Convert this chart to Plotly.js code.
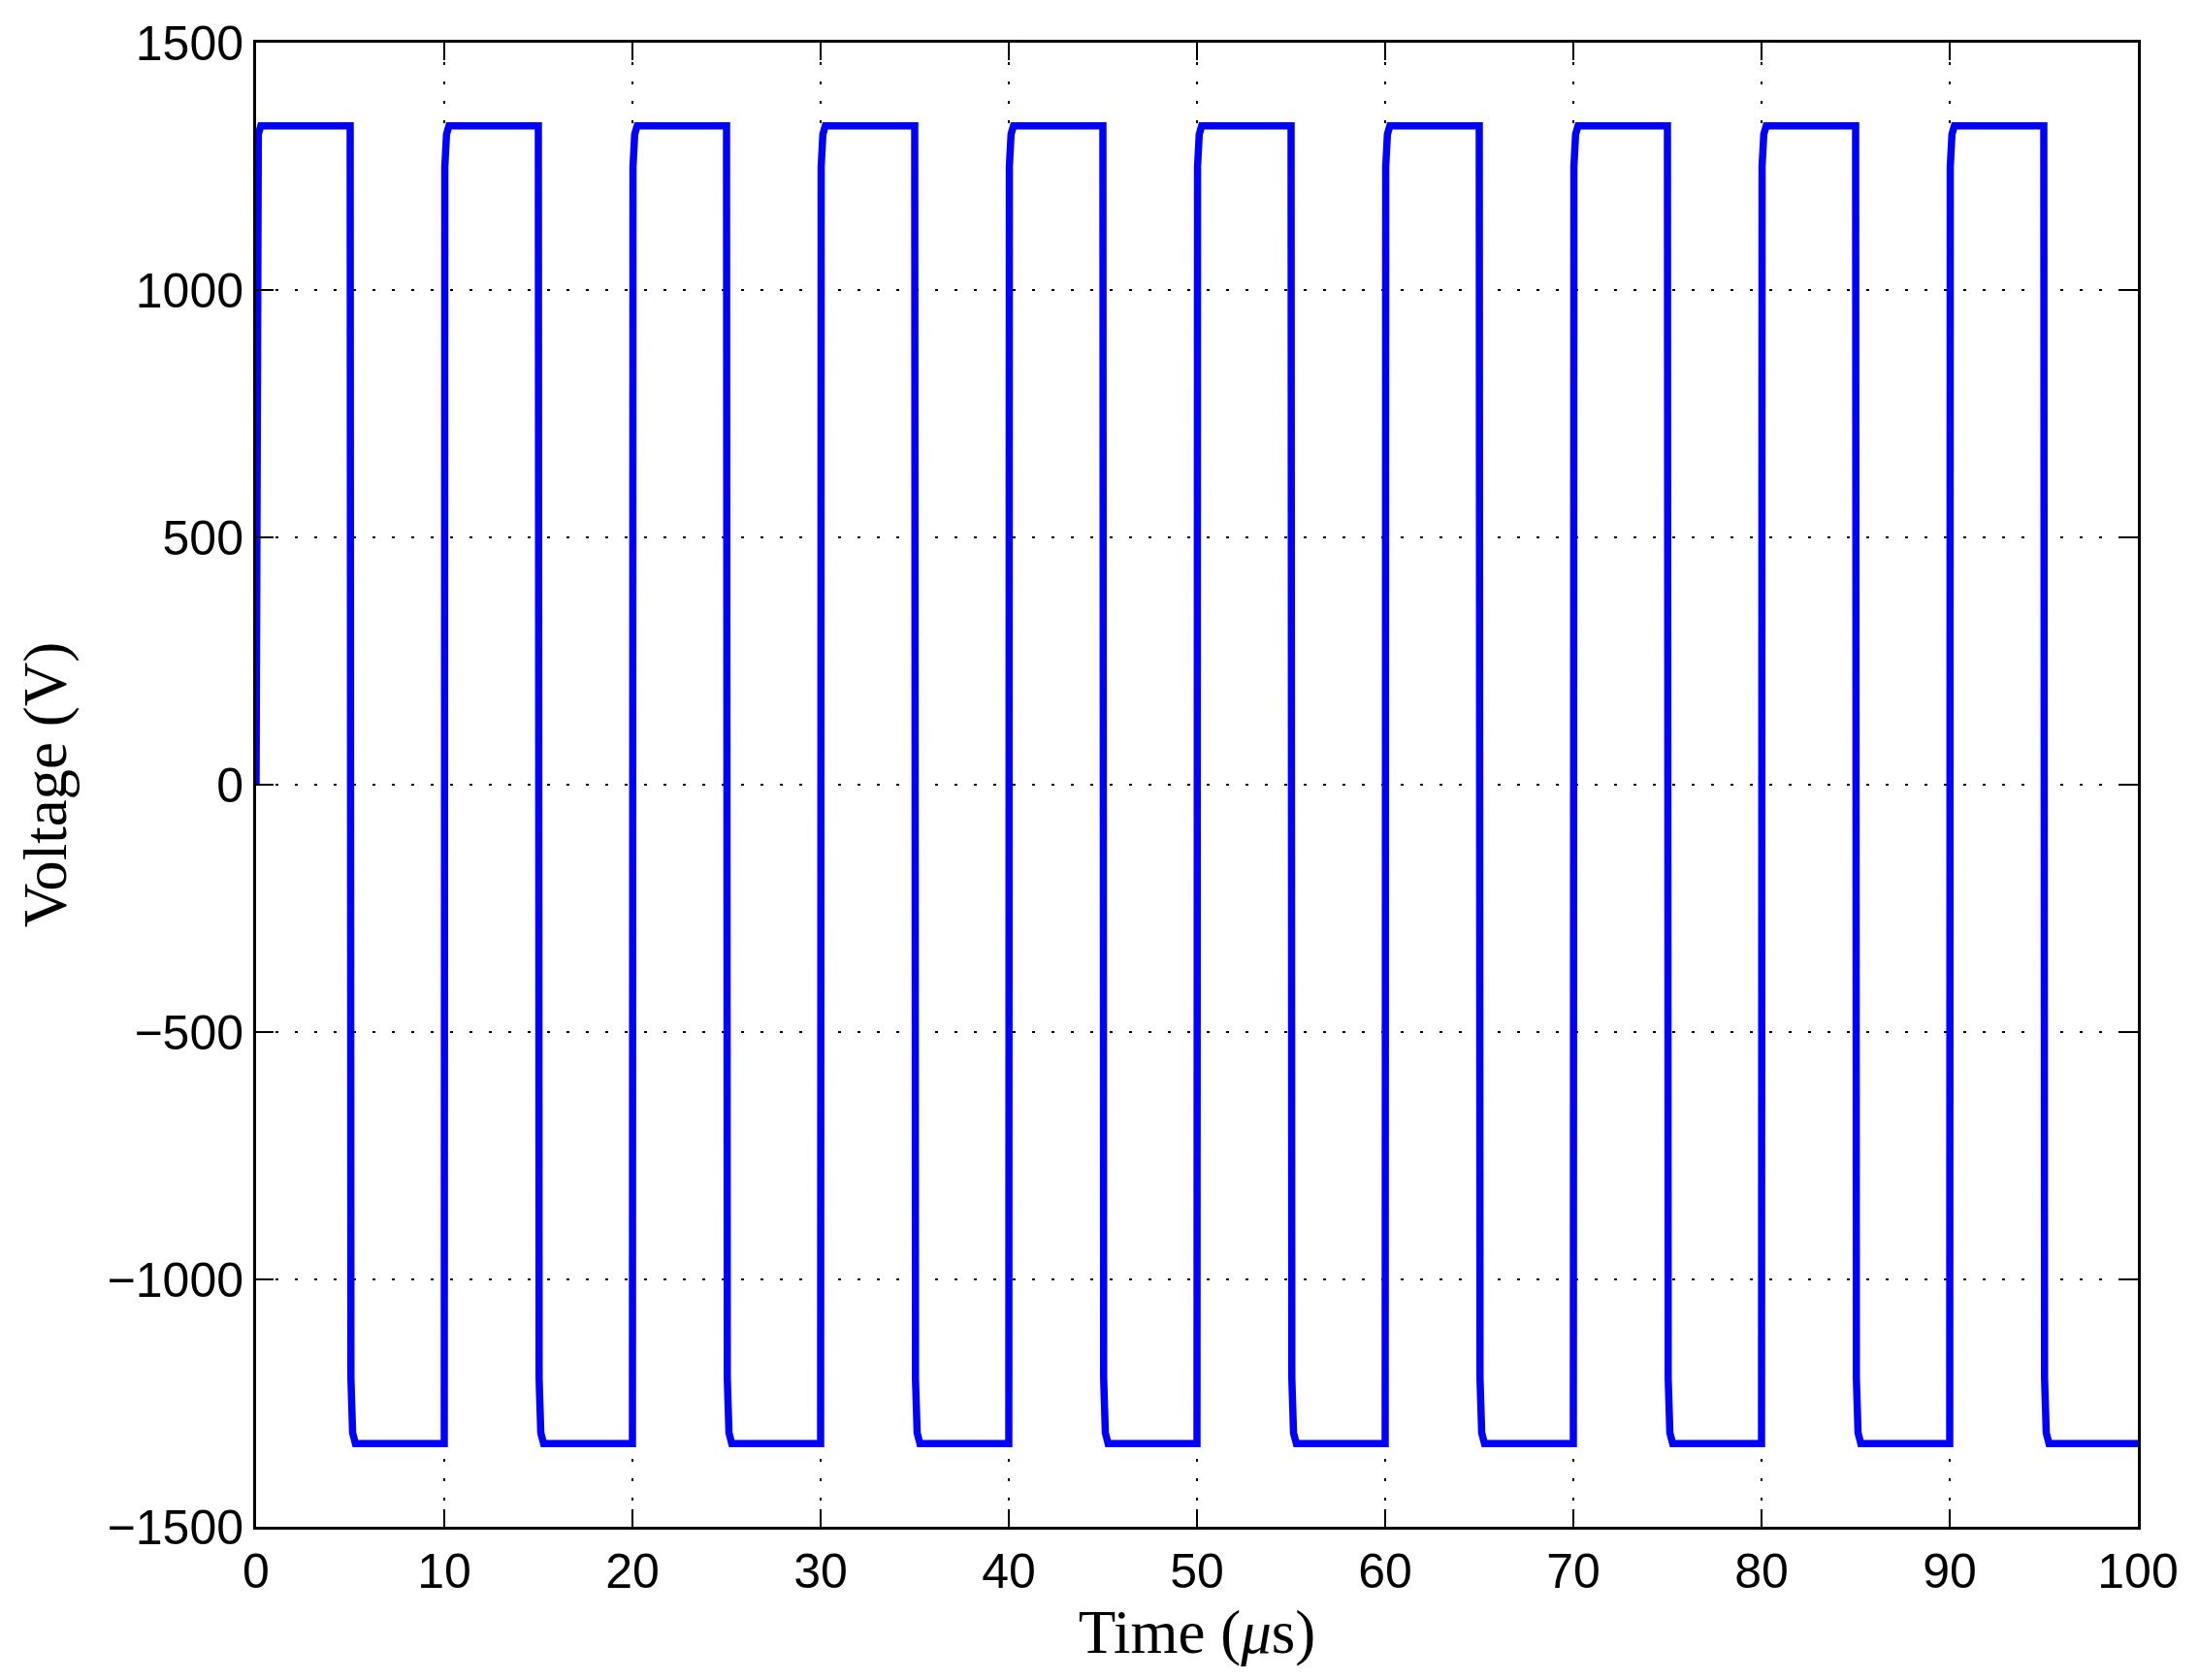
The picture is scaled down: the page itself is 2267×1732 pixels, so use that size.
<!DOCTYPE html>
<html>
<head>
<meta charset="utf-8">
<script src="https://cdn.plot.ly/plotly-3.0.1.min.js"></script>
<style>html,body{margin:0;padding:0;background:#fff;}#chart{width:2267px;height:1732px;}</style>
</head>
<body>
<div id="chart"></div>
<script>
// Time in microseconds
var timeUs = [
  0, 0.03, 0.12, 0.25, 5, 5.04, 5.13, 5.28,
  10, 10.03, 10.12, 10.25, 15, 15.04, 15.13, 15.28,
  20, 20.03, 20.12, 20.25, 25, 25.04, 25.13, 25.28,
  30, 30.03, 30.12, 30.25, 35, 35.04, 35.13, 35.28,
  40, 40.03, 40.12, 40.25, 45, 45.04, 45.13, 45.28,
  50, 50.03, 50.12, 50.25, 55, 55.04, 55.13, 55.28,
  60, 60.03, 60.12, 60.25, 65, 65.04, 65.13, 65.28,
  70, 70.03, 70.12, 70.25, 75, 75.04, 75.13, 75.28,
  80, 80.03, 80.12, 80.25, 85, 85.04, 85.13, 85.28,
  90, 90.03, 90.12, 90.25, 95, 95.04, 95.13, 95.28,
  100
];
// Voltage in volts
var voltageV = [
  0, 1250, 1315, 1332, 1332, -1200, -1310, -1332,
  -1332, 1250, 1315, 1332, 1332, -1200, -1310, -1332,
  -1332, 1250, 1315, 1332, 1332, -1200, -1310, -1332,
  -1332, 1250, 1315, 1332, 1332, -1200, -1310, -1332,
  -1332, 1250, 1315, 1332, 1332, -1200, -1310, -1332,
  -1332, 1250, 1315, 1332, 1332, -1200, -1310, -1332,
  -1332, 1250, 1315, 1332, 1332, -1200, -1310, -1332,
  -1332, 1250, 1315, 1332, 1332, -1200, -1310, -1332,
  -1332, 1250, 1315, 1332, 1332, -1200, -1310, -1332,
  -1332, 1250, 1315, 1332, 1332, -1200, -1310, -1332,
  -1332
];
var xTicks = [0, 10, 20, 30, 40, 50, 60, 70, 80, 90, 100];
var yTicks = [-1500, -1000, -500, 0, 500, 1000, 1500];

var tickFont = {family: '"Liberation Sans", Arial, sans-serif', size: 50, color: '#000'};
var titleFont = {family: '"Liberation Serif", "Times New Roman", serif', size: 63, color: '#000'};

var axisCommon = {
  showline: true, linecolor: '#000', linewidth: 3, mirror: 'allticks',
  ticks: 'inside', ticklen: 18, tickwidth: 2, tickcolor: '#000',
  showgrid: true, gridcolor: '#000', gridwidth: 1.5, griddash: '3px,17px',
  zeroline: false, tickfont: tickFont, automargin: false
};

var trace = {
  x: timeUs, y: voltageV, type: 'scatter', mode: 'lines',
  line: {color: '#0000ff', width: 7.5, shape: 'linear'},
  hoverinfo: 'none', showlegend: false
};

var layout = {
  width: 2267, height: 1732,
  paper_bgcolor: '#fff', plot_bgcolor: '#fff',
  margin: {l: 264, r: 63, t: 44, b: 158},
  xaxis: Object.assign({}, axisCommon, {
    range: [0, 100], tickvals: xTicks, ticktext: xTicks.map(String),
    title: {text: 'Time (<i>μ</i>s)', font: titleFont, standoff: 0}
  }),
  yaxis: Object.assign({}, axisCommon, {
    range: [-1500, 1500], tickvals: yTicks,
    ticktext: yTicks.map(function(v){ return v < 0 ? '\u2212' + Math.abs(v) : String(v); }),
    title: {text: 'Voltage (V)', font: titleFont, standoff: 22}
  })
};

Plotly.newPlot('chart', [trace], layout, {staticPlot: true, displayModeBar: false});
</script>
</body>
</html>
